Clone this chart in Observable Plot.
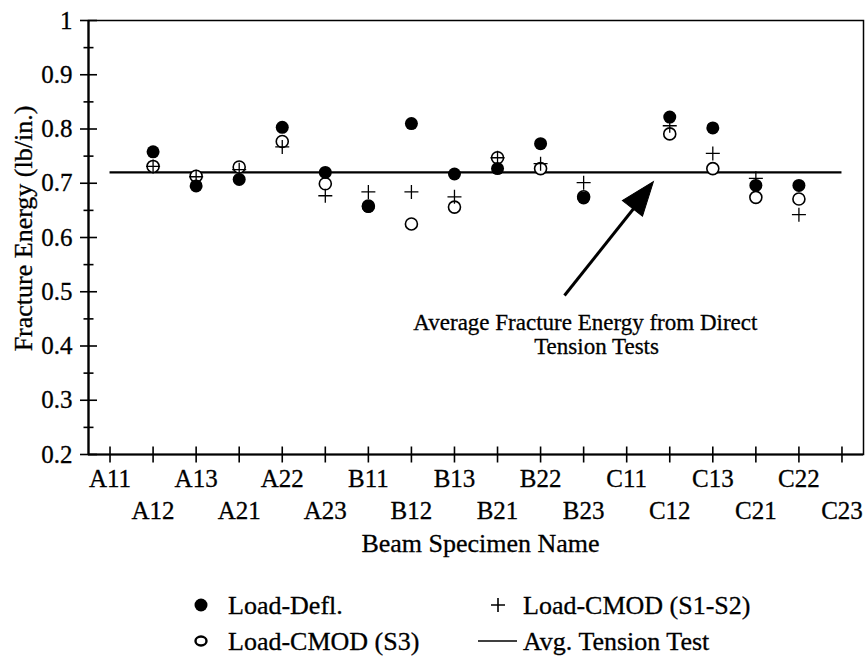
<!DOCTYPE html>
<html>
<head>
<meta charset="utf-8">
<script src="https://cdn.jsdelivr.net/npm/d3@7"></script>
<script src="https://cdn.jsdelivr.net/npm/@observablehq/plot@0.6"></script>
<style>
  html, body { margin: 0; padding: 0; background: #fff; }
  #wrap { width: 867px; font-family: "Liberation Serif", "Times New Roman", serif; }
  #wrap svg text { stroke: black; stroke-width: 0.3px; }
  #legend { display: block; }
</style>
</head>
<body>
<div id="wrap"></div>
<script>
// ---- data ----
const categories = ["A11","A12","A13","A21","A22","A23","B11","B12","B13","B21","B22","B23","C11","C12","C13","C21","C22","C23"];
const loadDefl     = [null,0.758,0.695,0.707,0.803,0.720,0.657,0.810,0.717,0.727,0.773,0.673,null,0.822,0.802,0.696,0.696,null];
const loadCmodS3   = [null,0.731,0.713,0.730,0.777,0.699,0.658,0.625,0.656,0.747,0.727,0.675,null,0.791,0.727,0.674,0.671,null];
const loadCmodS1S2 = [null,0.731,0.712,0.725,0.767,0.677,0.684,0.684,0.675,0.747,0.736,0.701,null,0.806,0.755,0.709,0.642,null];
const avgTension = 0.72;
const yMajorTicks = [0.2,0.3,0.4,0.5,0.6,0.7,0.8,0.9,1];
const yMinorTicks = [0.25,0.35,0.45,0.55,0.65,0.75,0.85,0.95];
const annotationLines = ["Average Fracture Energy from Direct", "Tension Tests"];
const legendLabels = ["Load-Defl.", "Load-CMOD (S1-S2)", "Load-CMOD (S3)", "Avg. Tension Test"];
const yTitle = "Fracture Energy (lb/in.)";
const xTitle = "Beam Specimen Name";

// ---- helpers ----
const idx = categories.map((c, i) => i);
const evenIdx = idx.filter(i => i % 2 === 0);
const oddIdx = idx.filter(i => i % 2 === 1);
const rows = arr => arr.map((v, i) => ({i, v})).filter(d => d.v != null);

const hTick = {draw(ctx, size) { const r = Math.sqrt(size / Math.PI); ctx.moveTo(-r, 0); ctx.lineTo(r, 0); }};
const vTick = {draw(ctx, size) { const r = Math.sqrt(size / Math.PI); ctx.moveTo(0, -r); ctx.lineTo(0, r); }};
const plusSym = {draw(ctx, size) { const r = Math.sqrt(size / Math.PI); ctx.moveTo(-r, 0); ctx.lineTo(r, 0); ctx.moveTo(0, -r); ctx.lineTo(0, r); }};
const headSym = {draw(ctx, size) { const r = Math.sqrt(size / Math.PI); ctx.moveTo(0, 0); ctx.lineTo(-0.75 * r, 2 * r); ctx.lineTo(0.75 * r, 2 * r); ctx.closePath(); }};

const font = "Liberation Serif";

const chart = Plot.plot({
  width: 867,
  height: 562,
  marginLeft: 88,
  marginRight: 4,
  marginTop: 20,
  marginBottom: 108,
  style: {fontFamily: font, background: "white", color: "black", overflow: "visible"},
  x: {type: "linear", domain: [-0.5, 17.5], axis: null, label: null},
  y: {domain: [0.2, 1], axis: null, label: null},
  marks: [
    Plot.frame({stroke: "black", strokeWidth: 1.5}),
    Plot.ruleX([-0.5], {stroke: "black", strokeWidth: 2.2}),
    Plot.ruleY([0.2], {stroke: "black", strokeWidth: 2.2}),
    // y ticks
    Plot.dot(yMajorTicks, {y: d => d, frameAnchor: "left", symbol: hTick, r: 8.5, fill: "none", stroke: "black", strokeWidth: 1.6}),
    Plot.dot(yMinorTicks, {y: d => d, frameAnchor: "left", symbol: hTick, r: 5, fill: "none", stroke: "black", strokeWidth: 1.6}),
    Plot.axisY(yMajorTicks, {tickSize: 0, tickPadding: 16, fontSize: 25, label: null, tickFormat: d => String(d)}),
    // x ticks
    Plot.dot(idx, {x: d => d, frameAnchor: "bottom", symbol: vTick, r: 8, fill: "none", stroke: "black", strokeWidth: 1.6}),
    Plot.axisX(evenIdx, {tickSize: 0, tickPadding: 15, fontSize: 25, label: null, tickFormat: i => categories[i]}),
    Plot.axisX(oddIdx, {tickSize: 0, tickPadding: 47, fontSize: 25, label: null, tickFormat: i => categories[i]}),
    // titles
    Plot.text([yTitle], {text: d => d, frameAnchor: "left", textAnchor: "middle", lineAnchor: "middle", rotate: -90, dx: -65, dy: -9, fontSize: 26}),
    Plot.text([xTitle], {text: d => d, frameAnchor: "bottom", textAnchor: "middle", lineAnchor: "middle", dx: 4.5, dy: 89, fontSize: 26}),
    // average line
    Plot.ruleY([avgTension], {x1: 0, x2: 17, stroke: "black", strokeWidth: 2.2}),
    // data
    Plot.dot(rows(loadCmodS3), {x: "i", y: "v", r: 6, fill: "white", stroke: "black", strokeWidth: 1.6}),
    Plot.dot(rows(loadDefl), {x: "i", y: "v", r: 6.5, fill: "black", stroke: "none"}),
    Plot.dot(rows(loadCmodS1S2), {x: "i", y: "v", symbol: plusSym, r: 7, fill: "none", stroke: "black", strokeWidth: 1.3}),
    // annotation
    Plot.link([0], {x1: 10.555, y1: 0.493, x2: 12.5, y2: 0.687, stroke: "black", strokeWidth: 3}),
    Plot.dot([0], {x: 12.62, y: 0.703, symbol: headSym, r: 17, rotate: 38, fill: "black", stroke: "black", strokeWidth: 1}),
    Plot.text([annotationLines[0]], {text: d => d, x: 11.04, y: 0.443, fontSize: 23}),
    Plot.text([annotationLines[1]], {text: d => d, x: 11.30, y: 0.399, fontSize: 23})
  ]
});

const wrap = document.getElementById("wrap");
wrap.appendChild(chart);

// ---- legend (below the chart) ----
const lg = d3.create("svg").attr("id", "legend").attr("width", 867).attr("height", 96)
  .style("font-family", font).style("font-size", "26px");
const r1 = 43, r2 = 79;
lg.append("circle").attr("cx", 201).attr("cy", r1).attr("r", 6.5).attr("fill", "black");
lg.append("text").attr("x", 228).attr("y", r1).attr("dy", "0.35em").text(legendLabels[0]);
lg.append("path").attr("d", `M${491},${r1}h14M${498},${r1 - 7}v14`).attr("stroke", "black").attr("stroke-width", 1.6);
lg.append("text").attr("x", 523).attr("y", r1).attr("dy", "0.35em").text(legendLabels[1]);
lg.append("ellipse").attr("cx", 201).attr("cy", r2).attr("rx", 5.5).attr("ry", 4.5).attr("fill", "none").attr("stroke", "black").attr("stroke-width", 2.4);
lg.append("text").attr("x", 228).attr("y", r2).attr("dy", "0.35em").text(legendLabels[2]);
lg.append("line").attr("x1", 478).attr("x2", 517).attr("y1", r2).attr("y2", r2).attr("stroke", "black").attr("stroke-width", 1.6);
lg.append("text").attr("x", 523).attr("y", r2).attr("dy", "0.35em").text(legendLabels[3]);
wrap.appendChild(lg.node());
</script>
</body>
</html>
